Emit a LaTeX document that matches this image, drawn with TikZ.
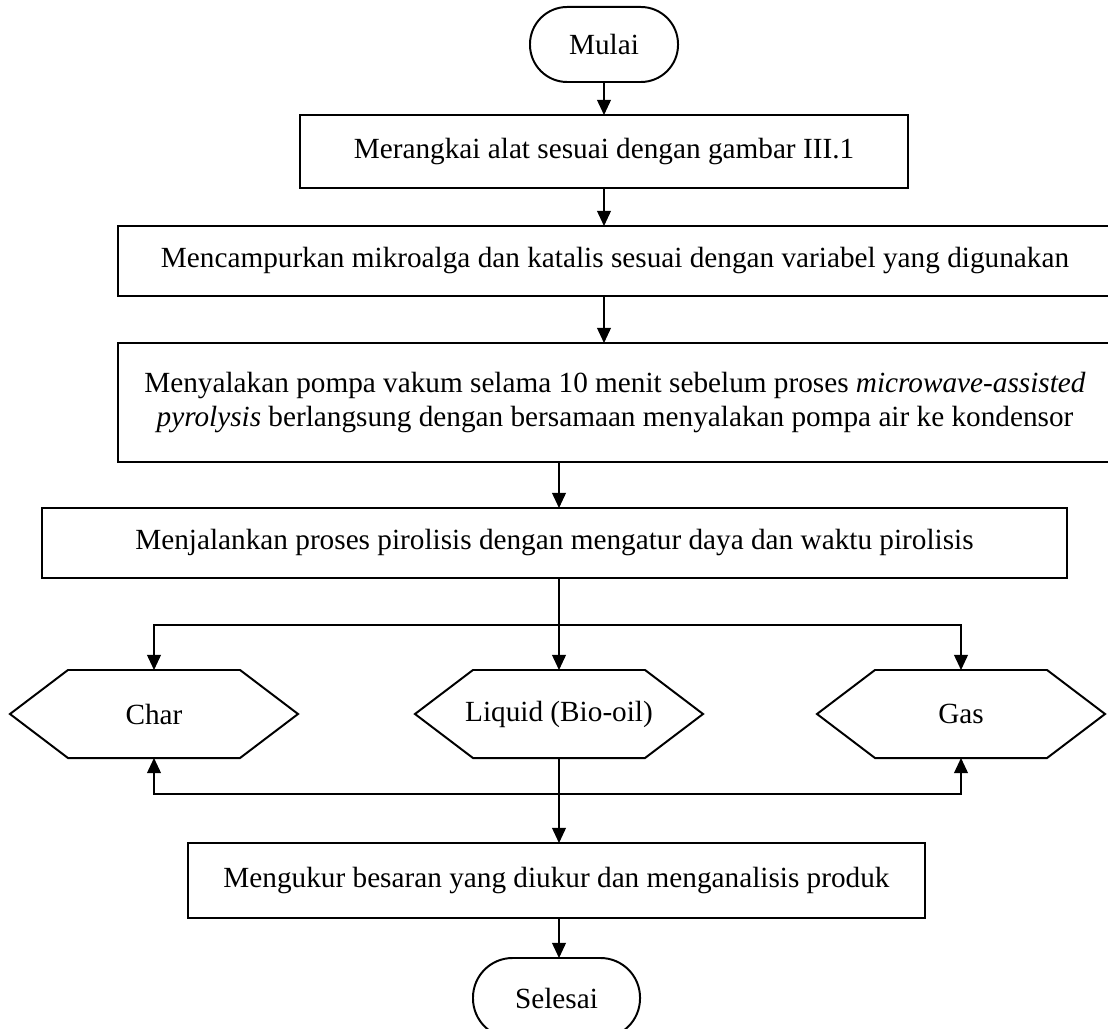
\documentclass[tikz,border=0pt]{standalone}
\usepackage{fontspec}
\setmainfont{Liberation Serif}
\usepackage{tikz}
\usetikzlibrary{shapes, arrows.meta, positioning}
\tikzstyle{proses} = [draw=black, line width=1.4pt, rectangle, outer sep=0pt, inner sep=0pt]
\tikzstyle{terminal} = [draw=black, line width=1.4pt, rectangle, outer sep=0pt, inner sep=0pt]
\tikzstyle{keluaran} = [rectangle, outer sep=0pt, inner sep=0pt, minimum width=7.2cm, minimum height=2.2cm]
\tikzstyle{garis} = [draw=black, line width=1.4pt, line join=miter]
\tikzstyle{panah} = [draw=black, line width=0.8pt, -{Triangle[width=0.35cm, length=0.38cm]}]
\newcommand{\segienam}[1]{%
	\draw[garis] (#1.west) -- ([xshift=1.45cm]#1.north west) -- ([xshift=-1.45cm]#1.north east)
		-- (#1.east) -- ([xshift=-1.45cm]#1.south east) -- ([xshift=1.45cm]#1.south west) -- cycle;}

\begin{document}
\begin{tikzpicture}[x=0.025cm, y=-0.025cm, font=\fontsize{20.8}{24.8}\selectfont]
	\useasboundingbox (0,0) rectangle (1108,1029);
	% langkah-langkah
	\node [terminal, rounded corners=0.93cm, minimum width=3.7cm, minimum height=1.875cm] (mulai) at (604,44.5) {Mulai};
	\node [proses, minimum width=15.2cm, minimum height=1.825cm] (rangkai) at (604,151.5) {Merangkai alat sesuai dengan gambar III.1};
	\node [proses, minimum width=24.85cm, minimum height=1.75cm] (campur) at (615,261) {Mencampurkan mikroalga dan katalis sesuai dengan variabel yang digunakan};
	\node [proses, minimum width=24.85cm, minimum height=2.975cm, align=center] (vakum) at (615,402.5) {Menyalakan pompa vakum selama 10 menit sebelum proses \textit{microwave-assisted}\\\textit{pyrolysis} berlangsung dengan bersamaan menyalakan pompa air ke kondensor};
	\node [proses, minimum width=25.625cm, minimum height=1.75cm] (pirolisis) at (554.5,543) {Menjalankan proses pirolisis dengan mengatur daya dan waktu pirolisis};
	% produk
	\node [keluaran] (char) at (154,714) {Char};
	\node [keluaran] (liquid) at (559,714) {Liquid (Bio-oil)};
	\node [keluaran] (gas) at (961,714) {Gas};
	\segienam{char}
	\segienam{liquid}
	\segienam{gas}
	\node [proses, minimum width=18.425cm, minimum height=1.875cm] (ukur) at (556.5,880.5) {Mengukur besaran yang diukur dan menganalisis produk};
	\node [terminal, rounded corners=0.99cm, minimum width=4.175cm, minimum height=2cm] (selesai) at (556.5,998) {Selesai};
	\coordinate (cabang) at (559,625);
	\coordinate (gabung) at (559,794);
	% panah
	\draw[panah] (mulai.south) -- (rangkai.north);
	\draw[panah] (rangkai.south) -- (rangkai.south |- campur.north);
	\draw[panah] (campur.south -| rangkai.south) -- (vakum.north -| rangkai.south);
	\draw[panah] (vakum.south -| liquid.north) -- (pirolisis.north -| liquid.north);
	\draw[panah] (pirolisis.south -| liquid.north) -- (liquid.north);
	\draw[panah] (cabang) -| (char.north);
	\draw[panah] (cabang) -| (gas.north);
	\draw[panah] (liquid.south) -- (ukur.north -| liquid.south);
	\draw[panah] (gabung) -| (char.south);
	\draw[panah] (gabung) -| (gas.south);
	\draw[panah] (ukur.south -| liquid.south) -- (selesai.north -| liquid.south);
\end{tikzpicture}
\end{document}
